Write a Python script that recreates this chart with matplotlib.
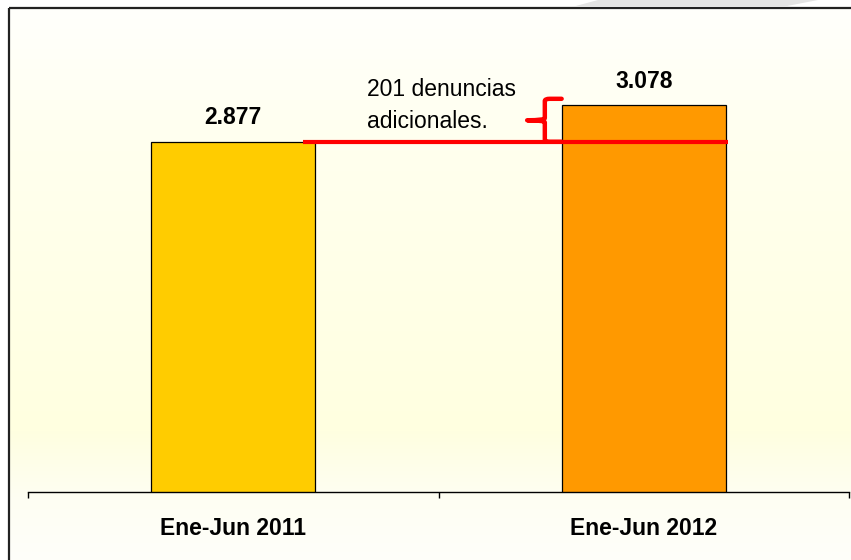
import numpy as np
from matplotlib import pyplot as plt
from matplotlib.path import Path
from matplotlib.patches import PathPatch, Rectangle, Polygon

categories = ["Ene-Jun 2011", "Ene-Jun 2012"]
values = [2877, 3078]
value_labels = ["2.877", "3.078"]
bar_colors = ["#FFCC00", "#FF9900"]
note = "201 denuncias\nadicionales."

plt.rcParams["font.family"] = ["Liberation Sans", "DejaVu Sans"]

W, H = 851, 560
fig = plt.figure(figsize=(W / 100, H / 100), dpi=100)

# background: pale yellow gradient inside a black frame (pixel coords)
bg = fig.add_axes([0, 0, 1, 1], zorder=0)
bg.set_xlim(0, W)
bg.set_ylim(H, 0)
bg.axis("off")
stops_y = [8, 150, 430, 500, 560]
stops_c = np.array([
    [255, 255, 252],
    [255, 255, 238],
    [255, 255, 224],
    [254, 254, 243],
    [254, 254, 250],
]) / 255.0
ys = np.arange(8, H + 1)
grad = np.stack([np.interp(ys, stops_y, stops_c[:, k]) for k in range(3)], axis=-1)
grad = np.repeat(grad[:, None, :], 8, axis=1)
bg.imshow(grad, extent=(9, W + 2, H + 1, 8), aspect="auto", interpolation="nearest")
bg.add_patch(Rectangle((9, 8), W, H, fill=False, edgecolor="#222222", linewidth=1.6))
bg.add_patch(Polygon([(572, 7), (598, 0), (818, 0), (782, 7)], closed=True,
                     facecolor="#E4E4E4", edgecolor="none"))

# main chart
ax = fig.add_axes([28 / W, (H - 492.3) / H, 821 / W, 463.9 / H], zorder=1)
ax.patch.set_alpha(0)

x = np.arange(len(categories))
w = 0.4
ax.bar(x, values, width=w, color=bar_colors, edgecolor="black", linewidth=0.9, zorder=2)

ax.set_xlim(-0.5, 1.5)
ax.set_ylim(950, 3500)

for s in ["left", "right", "top"]:
    ax.spines[s].set_visible(False)
ax.spines["bottom"].set_linewidth(1.0)
ax.set_yticks([])

ax.set_xticks(x)
ax.set_xticklabels(categories, fontsize=16.5, fontweight="bold")
ax.tick_params(axis="x", which="major", length=0, pad=18)
ax.set_xticks([-0.5, 0.5, 1.5], minor=True)
ax.tick_params(axis="x", which="minor", length=4.5, width=1.0, direction="out")

for xi, v, lab in zip(x, values, value_labels):
    ax.annotate(lab, (xi, v), xytext=(0, 12.5), textcoords="offset points",
                ha="center", va="baseline", fontsize=16.5, fontweight="bold")

# red reference line at the 2011 level
ax.plot([x[0] + w / 2 - 0.03, x[1] + w / 2 + 0.005], [values[0], values[0]],
        color="#FF0000", linewidth=3, solid_capstyle="butt", zorder=3)

# red curly brace marking the difference
top = values[1] + 35
bot = values[0]
mid = (top + bot) / 2
xe = x[1] - w / 2
xs = xe - 0.041
xt = xe - 0.084
dy = 12
verts = [
    (xe, top), (xs + 0.012, top),
    (xs, top), (xs, top - dy),
    (xs, mid + dy),
    (xs, mid), (xt, mid),
    (xs, mid), (xs, mid - dy),
    (xs, bot + dy),
    (xs, bot), (xs + 0.012, bot),
    (xe, bot),
]
codes = [Path.MOVETO, Path.LINETO,
         Path.CURVE3, Path.CURVE3,
         Path.LINETO,
         Path.CURVE3, Path.CURVE3,
         Path.CURVE3, Path.CURVE3,
         Path.LINETO,
         Path.CURVE3, Path.CURVE3,
         Path.LINETO]
ax.add_patch(PathPatch(Path(verts, codes), facecolor="none", edgecolor="#FF0000",
                       linewidth=3.2, zorder=3, capstyle="round", joinstyle="round"))

ax.text(0.325, 3076, note, ha="left", va="center", fontsize=16.5, linespacing=1.55)

fig.savefig("out.png", dpi=100)
